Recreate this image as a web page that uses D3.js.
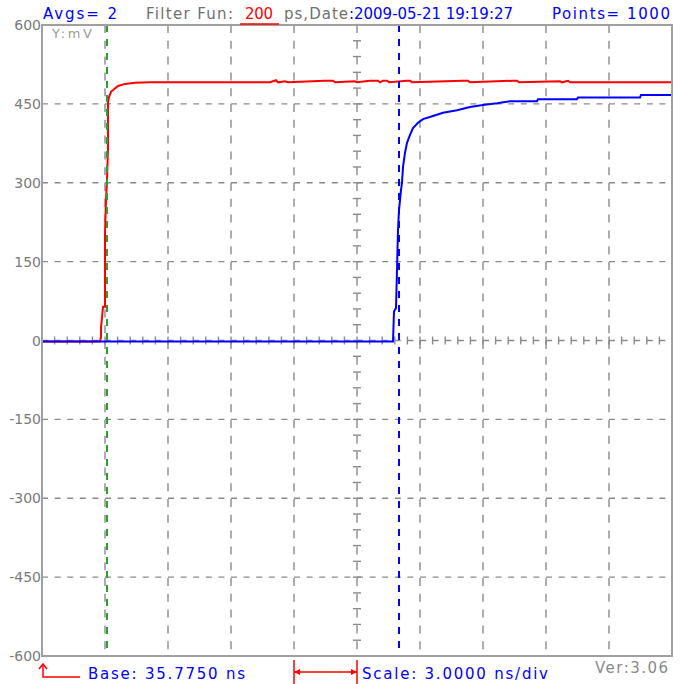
<!DOCTYPE html>
<html>
<head>
<meta charset="utf-8">
<title>Waveform</title>
<script src="https://cdn.jsdelivr.net/npm/d3@7"></script>
<style>
  body { margin: 0; background: #fff; }
  text { font-family: "DejaVu Sans", sans-serif; }
</style>
</head>
<body>
<svg id="svg" width="680" height="684"></svg>
<script>
// settings
var avgs = 2, filterPs = 200, dateStr = "2009-05-21 19:19:27", points = 1000, version = "3.06";
var baseNs = 35.775, scaleNs = 3;          // time of left edge, ns per division
var yTicks = [600, 450, 300, 150, 0, -150, -300, -450, -600];
var cursorT = [38.870, 52.775];
var cursorColor = ["#2f9e2f", "#0000ff"];

// red trace (ns, mV)
var redT = [35.775, 38.537, 38.585, 38.585, 38.680, 38.775, 38.775, 38.823, 38.870, 38.918, 38.918, 38.965, 39.061, 39.204, 39.394, 39.727, 40.204, 40.918,
  46.632, 46.918, 47.013, 47.346, 47.489, 49.251, 49.632, 49.727, 50.680, 50.775, 51.394, 51.775, 51.870, 52.013, 52.204, 52.299,
  53.156, 53.299, 53.394, 55.823, 56.061, 56.156, 58.204, 58.394, 58.489, 60.442, 60.537, 60.823, 60.918, 65.775];
var redV = [-2, -2, 7, 24, 64, 64, 205, 267, 305, 364, 452, 463, 473, 478, 484, 488, 490, 491,
  491, 495, 491, 493, 491, 494, 494, 491, 493, 491, 494, 494, 491, 494, 494, 491,
  494, 494, 491, 494, 494, 491, 494, 494, 491, 493, 491, 494, 491, 491];

// blue trace (ns, mV)
var blueT = [35.775, 52.489, 52.537, 52.632, 52.680, 52.727, 52.775, 52.823, 52.870, 52.918, 52.966, 53.061, 53.156, 53.299, 53.442, 53.680, 53.918,
  54.394, 54.870, 55.537, 56.156, 56.775, 57.442, 58.061, 59.346, 59.394, 61.251, 61.299, 64.251, 64.299, 65.775];
var blueV = [-2, -2, 55, 62, 134, 210, 248, 267, 286, 300, 330, 357, 376, 391, 404, 414, 421,
  427, 433, 438, 444, 448, 451, 455, 455, 459, 459, 462, 462, 467, 467];

var svg = d3.select("#svg");
var L = 42, R = 672, T = 25, B = 656;
var x = d3.scaleLinear().domain([baseNs, baseNs + 10 * scaleNs]).range([L, R]);
var y = d3.scaleLinear().domain([-600, 600]).range([B, T]);
var xDivs = d3.range(11).map(function(i){ return baseNs + i * scaleNs; });
var xMid = baseNs + 5 * scaleNs;

// grid
var grid = svg.append("g").attr("stroke", "#8a8a8a").attr("stroke-width", 1.4);
grid.selectAll(".vg").data(xDivs.slice(1, 10)).enter().append("line")
  .attr("x1", function(d){ return x(d); }).attr("x2", function(d){ return x(d); })
  .attr("y1", T).attr("y2", B).attr("stroke-dasharray", "8,7.8");
grid.selectAll(".hg").data(yTicks.slice(1, 8)).enter().append("line")
  .attr("x1", L).attr("x2", R)
  .attr("y1", function(d){ return y(d); }).attr("y2", function(d){ return y(d); })
  .attr("stroke-dasharray", "6,6.6");

// minor ticks on centre cross
var minorX = d3.range(1, 50).map(function(i){ return baseNs + i * scaleNs / 5; });
var minorY = d3.range(-19, 20).map(function(i){ return i * 30; });
grid.selectAll(".mx").data(minorX).enter().append("line")
  .attr("x1", function(d){ return x(d); }).attr("x2", function(d){ return x(d); })
  .attr("y1", y(0) - 4).attr("y2", y(0) + 4);
grid.selectAll(".my").data(minorY).enter().append("line")
  .attr("x1", x(xMid) - 4).attr("x2", x(xMid) + 4)
  .attr("y1", function(d){ return y(d); }).attr("y2", function(d){ return y(d); });

// y labels
svg.append("g").selectAll("text").data(yTicks).enter().append("text")
  .attr("x", 41).attr("y", function(d){ return y(d) + 5; })
  .attr("text-anchor", "end").attr("font-size", 14).attr("fill", "#7a7a7a")
  .text(function(d){ return d; });
svg.append("text").attr("x", 52).attr("y", 38).attr("font-size", 13).attr("fill", "#9a9a9a")
  .attr("textLength", 40).attr("lengthAdjust", "spacing").text("Y:mV");

// traces
var line = d3.line().x(function(d){ return x(d[0]); }).y(function(d){ return y(d[1]); });
svg.append("path").datum(d3.zip(redT, redV)).attr("d", line)
  .attr("fill", "none").attr("stroke", "#ff0000").attr("stroke-width", 2);
svg.append("path").datum(d3.zip(blueT, blueV)).attr("d", line)
  .attr("fill", "none").attr("stroke", "#0000ff").attr("stroke-width", 2);

// cursors
svg.append("g").selectAll("line").data(cursorT).enter().append("line")
  .attr("x1", function(d){ return x(d); }).attr("x2", function(d){ return x(d); })
  .attr("y1", T).attr("y2", B)
  .attr("stroke", function(d, i){ return cursorColor[i]; })
  .attr("stroke-width", 2).attr("stroke-dasharray", "7,7");

// frame
svg.append("rect").attr("x", L).attr("y", T).attr("width", R - L).attr("height", B - T)
  .attr("fill", "none").attr("stroke", "#a0a0a0").attr("stroke-width", 2);

// header
function label(txt, px, py, len, col, size) {
  return svg.append("text").attr("x", px).attr("y", py).attr("font-size", size || 15)
    .attr("fill", col).attr("textLength", len).attr("lengthAdjust", "spacing").text(txt);
}
label("Avgs= " + avgs, 43, 19, 74, "#0000ff");
label("Filter Fun:", 146, 19, 87, "#707070");
label(String(filterPs), 245, 19, 28, "#ff0000");
svg.append("line").attr("x1", 240).attr("x2", 279).attr("y1", 24).attr("y2", 24)
  .attr("stroke", "#ff0000").attr("stroke-width", 1.5);
label("ps,Date", 284, 19, 64, "#707070");
label(":" + dateStr, 349, 19, 164, "#0000ff");
label("Points= " + points, 552, 19, 118, "#0000ff");

// footer
var red = svg.append("g").attr("stroke", "#ff0000").attr("stroke-width", 1.5).attr("fill", "none");
red.append("path").attr("d", "M43,665 L43,677 L80,677");
red.append("path").attr("d", "M39,669 L43,664 L47,669");
var s0 = x(xMid - scaleNs), s1 = x(xMid);
red.append("line").attr("x1", s0).attr("x2", s0).attr("y1", 660).attr("y2", 684);
red.append("line").attr("x1", s1).attr("x2", s1).attr("y1", 660).attr("y2", 684);
red.append("line").attr("x1", s0).attr("x2", s1).attr("y1", 672).attr("y2", 672);
svg.append("path").attr("fill", "#ff0000")
  .attr("d", "M" + s0 + ",672 L" + (s0 + 6) + ",669 L" + (s0 + 6) + ",675 Z M" + s1 + ",672 L" + (s1 - 6) + ",669 L" + (s1 - 6) + ",675 Z");

label("Base: " + baseNs.toFixed(4) + " ns", 88, 679, 157, "#0000ff");
label("Scale: " + scaleNs.toFixed(4) + " ns/div", 362, 679, 186, "#0000ff");
label("Ver:" + version, 595, 673, 73, "#8a8a8a");
</script>
</body>
</html>
